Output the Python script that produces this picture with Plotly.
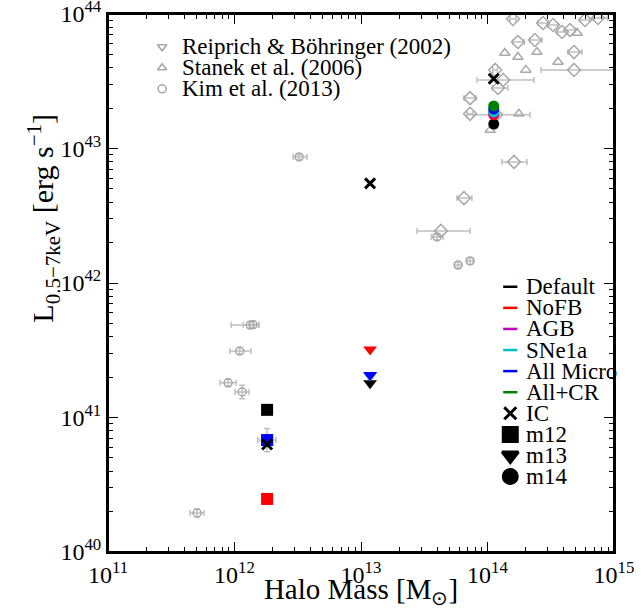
import plotly.graph_objects as go

# ---------------- observational data ----------------
# Kim et al. (2013)
kim_mass = [1.33e12, 1.40e12, 1.10e12, 8.9e11, 1.15e12, 1.81e12, 5.06e11, 3.24e12, 5.85e13, 7.28e13, 3.99e13]
kim_mass_lo = [9.4e11, 1.17e12, 9.2e11, 7.7e11, 1.01e12, 1.53e12, 4.45e11, 2.90e12, 5.5e13, 6.9e13, 3.6e13]
kim_mass_hi = [1.56e12, 1.56e12, 1.35e12, 1.03e12, 1.30e12, 2.13e12, 5.74e11, 3.74e12, 6.2e13, 7.7e13, 4.45e13]
kim_lx = [4.87e41, 4.90e41, 3.12e41, 1.81e41, 1.55e41, 6.8e40, 1.95e40, 8.65e42, 1.36e42, 1.46e42, 2.2e42]
kim_lx_lo = [4.6e41, 4.6e41, 2.95e41, 1.70e41, 1.38e41, 5.56e40, 1.82e40, 8.3e42, 1.29e42, 1.38e42, 2.1e42]
kim_lx_hi = [5.15e41, 5.2e41, 3.3e41, 1.93e41, 1.74e41, 8.3e40, 2.09e40, 9.0e42, 1.43e42, 1.54e42, 2.3e42]

# Reiprich & Böhringer (2002)
rb_mass = [4.28e13, 6.52e13, 1.62e14, 7.28e13, 1.17e14, 1.33e14, 1.21e14, 7.28e13, 1.15e14, 1.74e14,
           2.37e14, 4.83e14, 4.83e14, 2.75e14, 3.30e14, 3.88e14, 4.49e14, 5.90e14, 7.48e14, 1.59e14]
rb_mass_lo = [2.77e13, 5.74e13, 1.30e14, 6.9e13, 6.88e13, 8.26e13, 1.09e14, 6.52e13, 1.10e14, 1.59e14,
              2.17e14, 4.33e14, 2.65e14, 2.50e14, 3.00e14, 3.55e14, 4.10e14, 5.40e14, 6.85e14, 1.50e14]
rb_mass_hi = [7.28e13, 7.53e13, 2.05e14, 7.7e13, 2.17e14, 2.33e14, 1.45e14, 8.11e13, 1.20e14, 1.95e14,
              2.70e14, 5.58e14, 1.15e15, 3.00e14, 3.60e14, 4.20e14, 4.90e14, 6.40e14, 8.90e14, 1.68e14]
rb_lx = [2.44e42, 4.28e42, 7.95e42, 1.81e43, 1.78e43, 3.23e43, 2.82e43, 2.37e43, 3.84e43, 6.19e43,
         6.41e43, 5.21e43, 3.84e43, 8.57e43, 8.28e43, 7.35e43, 7.60e43, 9.02e43, 9.33e43, 9.19e43]

# Stanek et al. (2006)
st_mass = [1.77e14, 1.05e14, 1.37e14, 1.74e14, 2.01e14, 2.46e14, 3.61e14, 5.11e14]
st_lx = [1.81e43, 1.37e43, 5.13e43, 4.79e43, 3.84e43, 5.21e43, 4.40e43, 7.23e43]

# ---------------- simulations ----------------
variants = ["Default", "NoFB", "AGB", "SNe1a", "All Micro", "All+CR"]
variant_colors = ["#000000", "#ff0000", "#bf00bf", "#00bfbf", "#0000ff", "#008000"]
m12_mass, m13_mass, m14_mass = 1.81e12, 1.18e13, 1.12e14
m12_lx = [1.14e41, 2.48e40, 6.8e40, 6.8e40, 6.8e40, None]
m13_lx = [1.80e41, 3.20e41, 2.05e41, 2.05e41, 2.07e41, None]
m14_lx = [1.52e43, 1.78e43, 1.83e43, 1.87e43, 1.97e43, 2.07e43]
ic_mass = [1.81e12, 1.18e13, 1.12e14]
ic_lx = [6.3e40, 5.5e42, 3.3e43]

obs_labels = ["Reiprich & Böhringer (2002)", "Stanek et al. (2006)", "Kim et al. (2013)"]
obs_symbols = ["triangle-down-open", "triangle-up-open", "circle-open"]
halo_labels = ["IC", "m12", "m13", "m14"]
halo_symbols = ["x-thin", "square", "triangle-down", "circle"]

x_tickvals = [1e11, 1e12, 1e13, 1e14, 1e15]
x_ticktext = ["10<sup>11</sup>", "10<sup>12</sup>", "10<sup>13</sup>", "10<sup>14</sup>", "10<sup>15</sup>"]
y_tickvals = [1e40, 1e41, 1e42, 1e43, 1e44]
y_ticktext = ["10<sup>40</sup>", "10<sup>41</sup>", "10<sup>42</sup>", "10<sup>43</sup>", "10<sup>44</sup>"]

X_RANGE = (11, 15)
Y_RANGE = (40, 44)
GRAY = "#a8a8a8"
ERR = "#c0c0c0"
FONT = "Liberation Serif"


def asym(v, lo, hi):
    return [h - x for x, h in zip(v, hi)], [x - l for x, l in zip(v, lo)]


def minor_vals(d0, d1):
    return [m * 10.0 ** d for d in range(d0, d1) for m in range(2, 10)]


def frac_to_xy(fx, fy):
    """Position given as a fraction of the plot area -> data coordinates on the log axes."""
    return (10 ** (X_RANGE[0] + fx * (X_RANGE[1] - X_RANGE[0])),
            10 ** (Y_RANGE[0] + fy * (Y_RANGE[1] - Y_RANGE[0])))


fig = go.Figure()

# Observations (drawn underneath)
kx_p, kx_m = asym(kim_mass, kim_mass_lo, kim_mass_hi)
ky_p, ky_m = asym(kim_lx, kim_lx_lo, kim_lx_hi)
fig.add_trace(go.Scatter(
    x=kim_mass, y=kim_lx, mode="markers", showlegend=False,
    marker=dict(symbol="circle-open", size=8, color=GRAY, line=dict(width=1.5, color=GRAY)),
    error_x=dict(type="data", symmetric=False, array=kx_p, arrayminus=kx_m, color=ERR, thickness=1.5, width=3),
    error_y=dict(type="data", symmetric=False, array=ky_p, arrayminus=ky_m, color=ERR, thickness=1.5, width=3),
))
rx_p, rx_m = asym(rb_mass, rb_mass_lo, rb_mass_hi)
fig.add_trace(go.Scatter(
    x=rb_mass, y=rb_lx, mode="markers", showlegend=False,
    marker=dict(symbol="diamond-open", size=10, color=GRAY, line=dict(width=1.5, color=GRAY)),
    error_x=dict(type="data", symmetric=False, array=rx_p, arrayminus=rx_m, color=ERR, thickness=1.5, width=3),
))
fig.add_trace(go.Scatter(
    x=st_mass, y=st_lx, mode="markers", showlegend=False,
    marker=dict(symbol="triangle-up-open", size=9, color=GRAY, line=dict(width=1.5, color=GRAY)),
))

# Simulation points
for i, c in enumerate(variant_colors):
    if m12_lx[i] is not None:
        fig.add_trace(go.Scatter(x=[m12_mass], y=[m12_lx[i]], mode="markers", showlegend=False,
                                 marker=dict(symbol="square", size=12, color=c)))
    if m13_lx[i] is not None:
        fig.add_trace(go.Scatter(x=[m13_mass], y=[m13_lx[i]], mode="markers", showlegend=False,
                                 marker=dict(symbol="triangle-down", size=12, color=c)))
    if m14_lx[i] is not None:
        fig.add_trace(go.Scatter(x=[m14_mass], y=[m14_lx[i]], mode="markers", showlegend=False,
                                 marker=dict(symbol="circle", size=11, color=c)))

fig.add_trace(go.Scatter(x=ic_mass, y=ic_lx, mode="markers", showlegend=False,
                         marker=dict(symbol="x-thin", size=10, color="black",
                                     line=dict(width=3, color="black"))))

# ---------------- compact legends ----------------
# (legend glyphs live on the top/right twin axes, which share the main ranges)
annotations = []
shapes = []
LEG_FONT = dict(family=FONT, size=23, color="black")

# observational samples, upper left
obs_sym_x, obs_txt_x, obs_y0, obs_dy = 0.107, 0.142, 0.939, 0.039
for k, (lab, sym) in enumerate(zip(obs_labels, obs_symbols)):
    yy = obs_y0 - k * obs_dy
    mx, my = frac_to_xy(obs_sym_x, yy)
    fig.add_trace(go.Scatter(x=[mx], y=[my], xaxis="x2", yaxis="y2", mode="markers",
                             showlegend=False, hoverinfo="skip",
                             marker=dict(symbol=sym, size=8, color=GRAY, line=dict(width=1.6, color=GRAY))))
    annotations.append(dict(x=obs_txt_x, y=yy, xref="paper", yref="paper", text=lab, showarrow=False,
                            xanchor="left", yanchor="middle", font=LEG_FONT))

# simulations, lower right
sim_sym_x, sim_txt_x, sim_y0, sim_dy = 0.795, 0.822, 0.493, 0.0392
for k, (lab, c) in enumerate(zip(variants, variant_colors)):
    yy = sim_y0 - k * sim_dy
    shapes.append(dict(type="line", xref="paper", yref="paper", x0=sim_sym_x - 0.014, x1=sim_sym_x + 0.014,
                       y0=yy, y1=yy, line=dict(color=c, width=2.5)))
    annotations.append(dict(x=sim_txt_x, y=yy, xref="paper", yref="paper", text=lab, showarrow=False,
                            xanchor="left", yanchor="middle", font=LEG_FONT))
for j, (lab, sym) in enumerate(zip(halo_labels, halo_symbols)):
    yy = sim_y0 - (len(variants) + j) * sim_dy
    mx, my = frac_to_xy(sim_sym_x, yy)
    fig.add_trace(go.Scatter(x=[mx], y=[my], xaxis="x2", yaxis="y2", mode="markers",
                             showlegend=False, hoverinfo="skip",
                             marker=dict(symbol=sym, size=14 if sym != "x-thin" else 12, color="black",
                                         line=dict(width=3, color="black"))))
    annotations.append(dict(x=sim_txt_x, y=yy, xref="paper", yref="paper", text=lab, showarrow=False,
                            xanchor="left", yanchor="middle", font=LEG_FONT))

# y-axis title
annotations.append(dict(x=-0.128, y=0.62, xref="paper", yref="paper", showarrow=False, textangle=-90,
                        xanchor="center", yanchor="middle",
                        text="L<sub>0.5−7keV</sub> [erg s<sup>−1</sup>]",
                        font=dict(family=FONT, size=30, color="black")))

# frame around the plot area
shapes.append(dict(type="rect", xref="paper", yref="paper", x0=0, x1=1, y0=0, y1=1,
                   line=dict(color="black", width=2), layer="above"))

axis_common = dict(
    type="log", showgrid=False, zeroline=False, showline=True, linecolor="black", linewidth=2,
    ticks="inside", ticklen=10, tickwidth=1.3, tickcolor="black", automargin=False,
    ticklabeloverflow="allow", tickfont=dict(family=FONT, size=24, color="black"),
)
x_minor = dict(tickmode="array", tickvals=minor_vals(11, 15), ticks="inside", ticklen=5,
               tickwidth=1, tickcolor="black", showgrid=False)
y_minor = dict(tickmode="array", tickvals=minor_vals(40, 44), ticks="inside", ticklen=5,
               tickwidth=1, tickcolor="black", showgrid=False)
x_rng = [X_RANGE[0], X_RANGE[1] + 1e-6]
y_rng = [Y_RANGE[0], Y_RANGE[1] + 1e-6]

fig.update_layout(
    width=641, height=609,
    margin=dict(l=108, r=27, t=14, b=57),
    paper_bgcolor="white", plot_bgcolor="white",
    font=dict(family=FONT, color="black"),
    showlegend=False,
    xaxis=dict(axis_common, range=x_rng, tickvals=x_tickvals, ticktext=x_ticktext, minor=x_minor,
               title=dict(text="Halo Mass [M<sub>⊙</sub>]", font=dict(family=FONT, size=29), standoff=2)),
    yaxis=dict(axis_common, range=y_rng, tickvals=y_tickvals, ticktext=y_ticktext, minor=y_minor),
    xaxis2=dict(axis_common, overlaying="x", side="top", anchor="y", range=x_rng,
                tickvals=x_tickvals, showticklabels=False, minor=x_minor, fixedrange=True),
    yaxis2=dict(axis_common, overlaying="y", side="right", anchor="x", range=y_rng,
                tickvals=y_tickvals, showticklabels=False, minor=y_minor, fixedrange=True),
    annotations=annotations,
    shapes=shapes,
)

fig.write_html("out.html")
